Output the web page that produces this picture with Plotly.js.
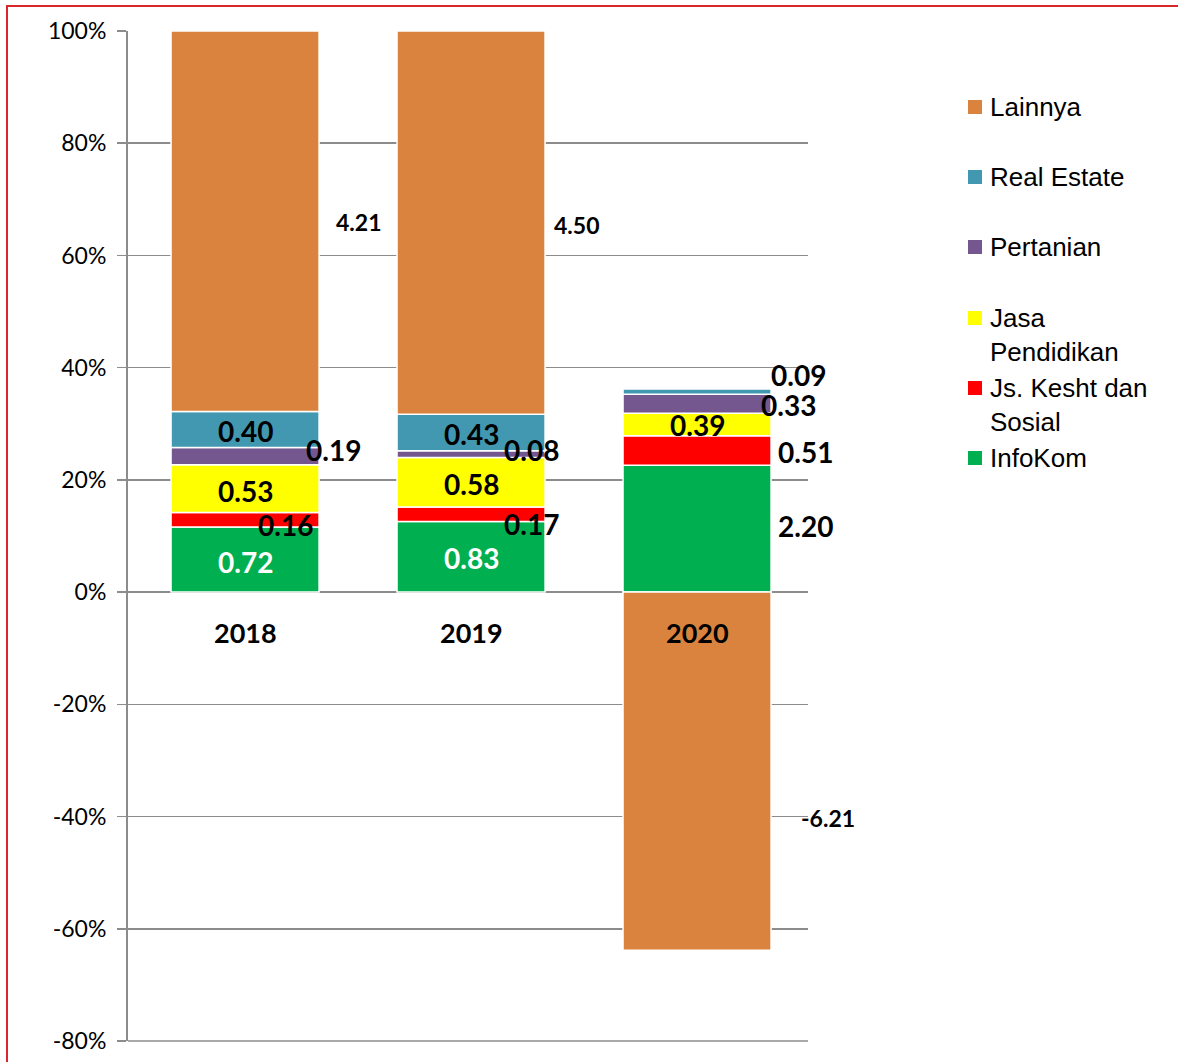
<!DOCTYPE html>
<html>
<head>
<meta charset="utf-8">
<script src="https://cdn.plot.ly/plotly-3.0.1.min.js"></script>
<style>
  html, body { margin: 0; padding: 0; background: #fff; overflow: hidden; }
  #chart { width: 1178px; height: 1062px; }
  #frame { position: absolute; left: 6px; top: 5px; width: 1300px; height: 1200px;
           border-left: 2px solid #d8262c; border-top: 2px solid #d8262c; pointer-events: none; }
</style>
</head>
<body>
<div id="chart"></div>
<div id="frame"></div>
<script>
// ---- data ----
const categories = ['2018', '2019', '2020'];
const seriesNames = ['InfoKom', 'Js. Kesht dan Sosial', 'Jasa Pendidikan', 'Pertanian', 'Real Estate', 'Lainnya'];
const legendLabels = ['InfoKom', 'Js. Kesht dan<br>Sosial', 'Jasa<br>Pendidikan', 'Pertanian', 'Real Estate', 'Lainnya'];
const infoKom    = [0.72, 0.83, 2.20];
const jsKesht    = [0.16, 0.17, 0.51];
const jasaPend   = [0.53, 0.58, 0.39];
const pertanian  = [0.19, 0.08, 0.33];
const realEstate = [0.40, 0.43, 0.09];
const lainnya    = [4.21, 4.50, -6.21];
const yTickVals  = [-80, -60, -40, -20, 0, 20, 40, 60, 80, 100];
const yTickText  = ['-80%', '-60%', '-40%', '-20%', '0%', '20%', '40%', '60%', '80%', '100%'];

// ---- styles ----
const colors = ['#00B050', '#FF0000', '#FFFF00', '#74578F', '#4298B0', '#DA833E'];
const series = [infoKom, jsKesht, jasaPend, pertanian, realEstate, lainnya];

// share of each value in the sum of absolute values per year (percent)
const totals = categories.map((c, i) => series.reduce((s, arr) => s + Math.abs(arr[i]), 0));
const pct = series.map(arr => arr.map((v, i) => v / totals[i] * 100));

const xIdx = categories.map((c, i) => i);

const traces = [];
series.forEach((arr, k) => {
  traces.push({
    type: 'bar', name: seriesNames[k], x: xIdx, y: pct[k], width: 0.655,
    marker: { color: colors[k], line: { color: '#ffffff', width: 1.5 } },
    hoverinfo: 'skip', showlegend: false
  });
});

// label placement (pixel offsets from segment middle), per series per year
const labelOffsets = [
  [[0, -2], [0, -1], [108, 3]],      // InfoKom
  [[40, -5], [60, -10], [108, -1]],  // Js. Kesht
  [[0, -2], [0, -2], [0, 0]],        // Jasa Pend
  [[88, 6], [60, 4], [91, -1]],      // Pertanian
  [[0, -2], [0, -2], [101, 17]],     // Real Estate
  [[113, -1], [105, -2], [131, -47]] // Lainnya
];
const labelColors = ['#ffffff', '#000', '#000', '#000', '#000', '#000'];
const annotations = [];
categories.forEach((c, i) => {
  let posBase = 0, negBase = 0;
  series.forEach((arr, k) => {
    const p = pct[k][i];
    let mid;
    if (p >= 0) { mid = posBase + p / 2; posBase += p; }
    else { mid = negBase + p / 2; negBase += p; }
    const off = labelOffsets[k][i];
    const inside = off[0] === 0;
    annotations.push({
      x: i, y: mid, xref: 'x', yref: 'y',
      text: arr[i].toFixed(2),
      showarrow: false,
      xshift: off[0], yshift: off[1],
      font: { family: 'Lato, sans-serif', size: k === 5 ? 23 : 28, color: inside ? labelColors[k] : '#000', weight: 700 }
    });
  });
  // category label just below zero line
  annotations.push({
    x: i, y: 0, xref: 'x', yref: 'y', yanchor: 'top',
    text: '<b>' + c + '</b>', showarrow: false, yshift: -22,
    font: { family: 'Lato, sans-serif', size: 27, color: '#000' }
  });
});

// custom legend (top to bottom: Lainnya ... InfoKom)
const plotL = 128, plotR = 808, plotT = 31, plotB = 1041;
const px2x = px => (px - plotL) / (plotR - plotL);
const px2y = py => (plotB - py) / (plotB - plotT);
const legendRowY = [107, 177, 247, 318, 388, 458];
const shapes = [];
for (let r = 0; r < 6; r++) {
  const k = 5 - r;
  const cy = legendRowY[r];
  shapes.push({
    type: 'rect', xref: 'paper', yref: 'paper',
    x0: px2x(968), x1: px2x(982), y0: px2y(cy + 7), y1: px2y(cy - 7),
    fillcolor: colors[k], line: { width: 0 }
  });
  annotations.push({
    xref: 'paper', yref: 'paper',
    x: px2x(988), y: px2y(cy - 17),
    xanchor: 'left', yanchor: 'top', align: 'left',
    text: legendLabels[k], showarrow: false,
    font: { family: '"Liberation Sans", Arial, sans-serif', size: 26, color: '#000' }
  });
}
// -80% gridline at the bottom edge of the plot
shapes.push({
  type: 'line', xref: 'paper', yref: 'paper', x0: 0, x1: 1, y0: 0, y1: 0,
  line: { color: '#8c8c8c', width: 1.5 }, layer: 'below'
});

const layout = {
  width: 1178, height: 1062,
  margin: { l: plotL, r: 1178 - plotR, t: plotT, b: 1062 - plotB, pad: 0 },
  paper_bgcolor: '#ffffff', plot_bgcolor: '#ffffff',
  barmode: 'relative',
  showlegend: false,
  xaxis: {
    range: [-0.518, 2.491], showticklabels: false, showgrid: false, zeroline: false,
    ticks: '', showline: false, fixedrange: true
  },
  yaxis: {
    range: [-80, 100], tickmode: 'array', tickvals: yTickVals, ticktext: yTickText,
    showgrid: true, gridcolor: '#8c8c8c', gridwidth: 1.5,
    zeroline: true, zerolinecolor: '#8c8c8c', zerolinewidth: 1.5,
    showline: true, linecolor: '#8c8c8c', linewidth: 2,
    ticks: 'outside', ticklen: 9, tickcolor: '#8c8c8c', tickwidth: 1.5,
    ticklabelstandoff: 6,
    tickfont: { family: 'Lato, sans-serif', size: 23, color: '#000' },
    fixedrange: true
  },
  annotations: annotations,
  shapes: shapes
};

Plotly.newPlot('chart', traces, layout, { displayModeBar: false, staticPlot: true });
</script>
</body>
</html>
